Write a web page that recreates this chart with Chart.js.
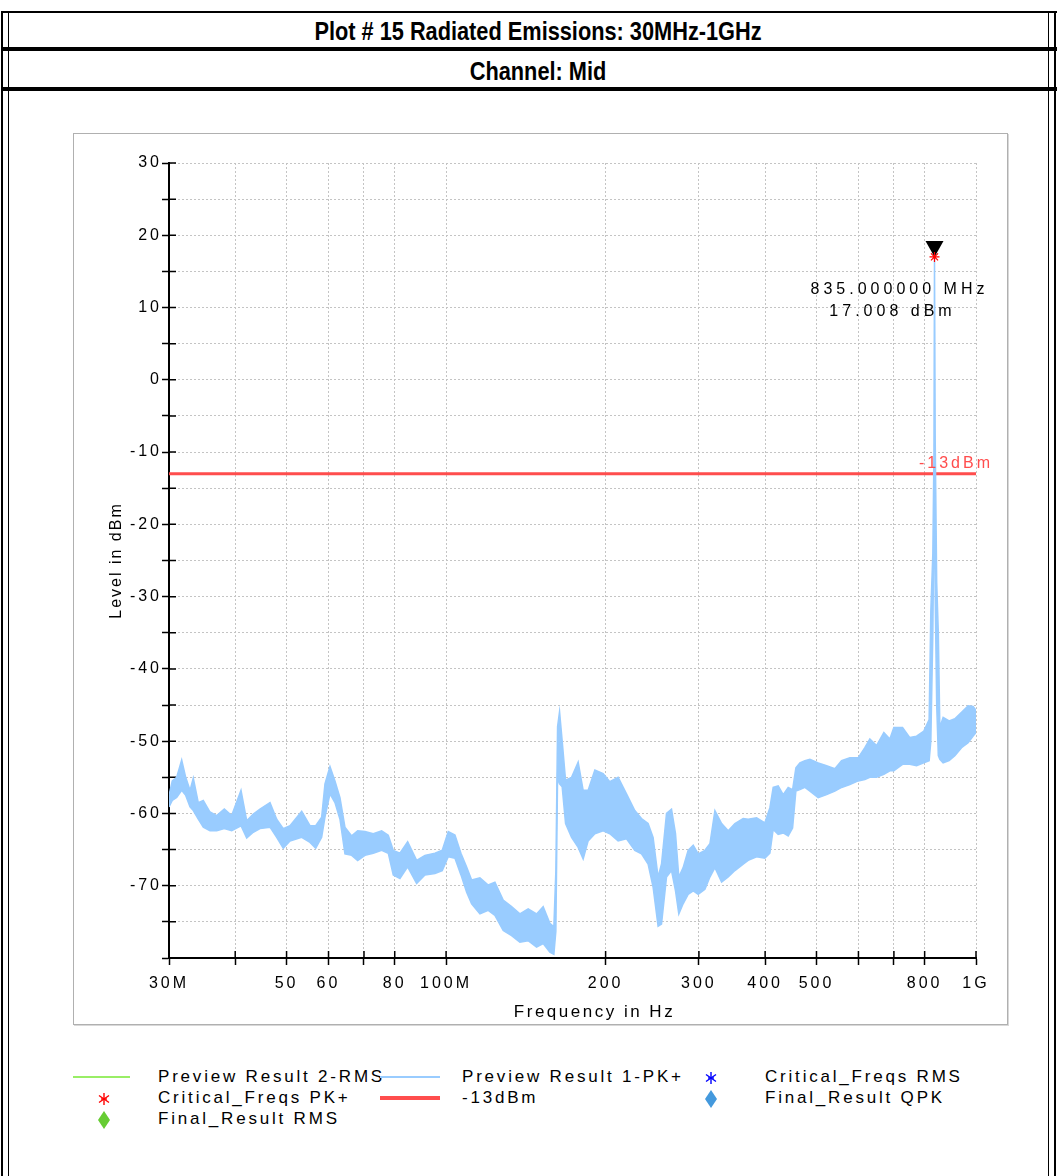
<!DOCTYPE html>
<html>
<head>
<meta charset="utf-8">
<script src="https://cdn.jsdelivr.net/npm/chart.js@4"></script>
<style>
body { margin: 0; width: 1057px; height: 1176px; position: relative; overflow: hidden; background: #fff; font-family: "Liberation Sans", Arial, sans-serif; }
.ln { position: absolute; background: #000; }
.hdr { position: absolute; left: 0; width: 1076px; text-align: center; font-family: "Liberation Sans Narrow", "Arial Narrow", "Liberation Sans", sans-serif; font-weight: bold; font-size: 25px; line-height: 28px; transform: scaleX(0.87); }
#frame { position: absolute; left: 73px; top: 133px; width: 933px; height: 890px; border: 1px solid #b0b0b0; box-shadow: 1px 1px 0 #d8d8d8; }
.lg { position: absolute; font-size: 17px; letter-spacing: 2.8px; line-height: 20px; white-space: nowrap; }
.sym { position: absolute; }
</style>
</head>
<body>
<div class="ln" style="left:1px;top:11px;width:1056px;height:2px"></div>
<div class="ln" style="left:1px;top:11px;width:2px;height:1165px"></div>
<div class="ln" style="left:8px;top:13px;width:1px;height:1163px"></div>
<div class="ln" style="left:1048px;top:13px;width:1px;height:1163px"></div>
<div class="ln" style="left:1054px;top:11px;width:2px;height:1165px"></div>
<div class="ln" style="left:1px;top:47px;width:1056px;height:4px"></div>
<div class="ln" style="left:1px;top:87px;width:1056px;height:4px"></div>
<div class="hdr" style="top:17px">Plot # 15 Radiated Emissions: 30MHz-1GHz</div>
<div class="hdr" style="top:57px">Channel: Mid</div>

<div id="frame"><canvas id="myChart"></canvas></div>

<div id="legend"></div>

<script>
// preview trace: band top / bottom per frequency (MHz, dBm)
const freqMHz = [30.00, 30.43, 31.02, 31.70, 32.26, 32.87, 33.34, 34.07, 34.82, 35.85,
  36.91, 38.15, 39.39, 41.02, 42.05, 43.27, 44.55, 46.53, 47.90, 49.29,
  50.75, 53.40, 55.36, 56.75, 58.24, 59.08, 60.38, 61.70, 63.06, 64.44,
  66.35, 68.10, 70.30, 72.88, 75.58, 77.78, 79.49, 81.83, 84.62, 87.99,
  91.22, 95.28, 98.35, 100.95, 103.93, 106.67, 109.34, 111.74, 115.84, 120.09,
  123.64, 128.17, 132.93, 137.81, 142.86, 148.17, 152.48, 156.98, 159.73, 161.13,
  162.32, 163.73, 165.59, 168.06, 172.50, 177.52, 181.42, 185.40, 190.88, 197.87,
  203.71, 211.19, 219.03, 227.06, 233.77, 240.56, 245.84, 251.24, 255.00, 260.60,
  266.32, 270.99, 274.91, 280.10, 286.25, 292.66, 299.09, 307.92, 314.68, 321.59,
  331.09, 340.71, 350.78, 363.65, 371.63, 385.43, 399.58, 408.36, 414.26, 423.36,
  432.66, 442.17, 450.71, 457.22, 465.23, 475.47, 485.92, 503.74, 522.45, 541.61,
  557.59, 578.06, 599.25, 616.94, 630.50, 649.13, 670.04, 687.74, 699.80, 726.74,
  750.17, 772.33, 797.21, 815.78, 821.8, 829.0, 833.0, 835.0, 837.5, 843.0,
  849.0, 854.6, 866.9, 889.8, 912.1, 939.1, 966.4, 987.6, 1000];
const pkTopDbm = [-57.5, -55.5, -55.0, -52.6, -55.0, -56.8, -55.1, -58.5, -58.2, -59.8,
  -60.3, -59.4, -60.3, -56.8, -61.0, -60.1, -59.4, -58.5, -60.8, -62.1,
  -61.7, -59.7, -61.7, -61.7, -60.5, -55.9, -53.5, -55.5, -57.8, -61.9,
  -63.1, -62.4, -62.5, -62.8, -62.4, -63.0, -65.1, -65.5, -63.9, -66.5,
  -65.8, -65.5, -65.1, -62.5, -63.0, -65.5, -67.4, -69.2, -68.9, -69.9,
  -69.5, -72.0, -72.9, -73.9, -73.2, -73.9, -72.9, -75.2, -75.7, -67.9,
  -48.0, -45.9, -49.9, -55.4, -55.0, -52.9, -56.8, -56.8, -54.0, -54.5,
  -55.6, -55.0, -57.3, -59.6, -60.7, -61.4, -63.3, -68.8, -67.0, -60.0,
  -59.4, -62.8, -68.8, -67.5, -65.1, -64.4, -65.6, -65.1, -64.2, -59.6,
  -61.4, -62.4, -61.4, -60.7, -60.8, -60.6, -61.3, -59.2, -56.4, -56.2,
  -57.4, -56.4, -56.7, -53.7, -53.0, -52.7, -52.5, -53.0, -53.4, -53.8,
  -52.7, -52.3, -52.3, -50.9, -49.7, -50.6, -48.8, -49.7, -48.1, -48.1,
  -49.5, -49.3, -48.6, -47.0, -32.0, -24.0, -10.0, 17.008, -8.0, -28.0,
  -35.0, -48.1, -46.7, -47.2, -46.9, -46.0, -45.1, -45.2, -45.7];
const pkBottomDbm = [-59.1, -58.2, -57.8, -56.8, -57.5, -59.1, -59.6, -60.8, -61.9, -62.4,
  -62.4, -62.1, -62.4, -61.7, -63.4, -62.6, -62.1, -61.9, -63.3, -64.8,
  -63.8, -63.3, -64.0, -64.8, -63.3, -60.5, -57.3, -58.5, -60.8, -65.6,
  -65.8, -66.5, -65.8, -65.5, -65.1, -65.5, -68.5, -69.0, -67.4, -69.7,
  -68.5, -68.3, -67.9, -66.0, -66.2, -68.5, -70.9, -72.5, -73.9, -73.4,
  -74.1, -76.2, -76.9, -77.8, -77.6, -78.5, -78.0, -79.2, -79.5, -76.3,
  -55.0, -55.9, -56.3, -61.4, -63.3, -64.7, -66.3, -63.8, -62.8, -62.4,
  -62.8, -63.8, -63.5, -65.1, -65.6, -67.0, -70.2, -75.6, -75.3, -68.8,
  -67.9, -70.7, -73.9, -72.5, -71.2, -70.7, -71.2, -70.5, -68.8, -67.5,
  -69.5, -68.8, -67.9, -67.0, -66.5, -66.0, -66.2, -65.5, -62.2, -62.9,
  -62.7, -63.1, -62.0, -56.9, -56.7, -56.4, -56.9, -57.8, -57.4, -56.9,
  -56.4, -56.0, -55.5, -55.3, -55.0, -55.0, -54.6, -54.1, -54.1, -53.2,
  -53.2, -53.4, -53.0, -52.7, -50.0, -35.0, -20.0, -15.0, -30.0, -45.0,
  -52.0, -52.5, -53.0, -52.7, -52.0, -50.9, -50.2, -49.3, -48.8];

const peakMHz = 835;
const peakDbm = 17.008;
const limitDbm = -13;
const limitLabel = '-13dBm';

const xTickValues = [30, 40, 50, 60, 70, 80, 100, 200, 300, 400, 500, 600, 700, 800, 1000];
const xTickLabels = ['30M', '', '50', '60', '', '80', '100M', '200', '300', '400', '500', '', '', '800', '1G'];
const xTitle = 'Frequency in Hz';
const yTitle = 'Level in dBm';

const legendItems = [
  { text: 'Preview Result 2-RMS', kind: 'line', color: '#99ee66', w: 2, col: 0, row: 0 },
  { text: 'Preview Result 1-PK+', kind: 'line', color: '#99ccff', w: 2, col: 1, row: 0 },
  { text: 'Critical_Freqs RMS', kind: 'star', color: '#0000ff', col: 2, row: 0 },
  { text: 'Critical_Freqs PK+', kind: 'star', color: '#ff0000', col: 0, row: 1 },
  { text: '-13dBm', kind: 'line', color: '#ff4d4d', w: 4, col: 1, row: 1 },
  { text: 'Final_Result QPK', kind: 'diamond', color: '#4499dd', col: 2, row: 1 },
  { text: 'Final_Result RMS', kind: 'diamond', color: '#66cc33', col: 0, row: 2 }
];

const traceColor = '#99ccff';

function buildLegend() {
  const box = document.getElementById('legend');
  const textX = [158, 462, 765];
  const lineX = [[73, 130], [380, 440], [380, 440]];
  const symX = [104, 410, 711];
  let html = '';
  legendItems.forEach(it => {
    const cy = 1078 + it.row * 21;
    html += `<div class="lg" style="left:${textX[it.col]}px;top:${cy - 11}px">${it.text}</div>`;
    const cx = symX[it.col];
    if (it.kind === 'line') {
      const [a, b] = lineX[it.col];
      html += `<div class="sym" style="left:${a}px;top:${cy - it.w / 2 - 1}px;width:${b - a}px;height:${it.w}px;background:${it.color}"></div>`;
    } else if (it.kind === 'star') {
      html += `<svg class="sym" style="left:${cx - 7}px;top:${cy - 7}px" width="14" height="14" viewBox="-7 -7 14 14">
        <g stroke="${it.color}" stroke-width="1.4"><line x1="0" y1="-6" x2="0" y2="6"/><line x1="-5" y1="-3.5" x2="5" y2="3.5"/><line x1="-5" y1="3.5" x2="5" y2="-3.5"/><line x1="-3" y1="0" x2="3" y2="0"/></g></svg>`;
    } else {
      html += `<svg class="sym" style="left:${cx - 7}px;top:${cy - 9}px" width="14" height="18" viewBox="-7 -9 14 18">
        <polygon points="0,-9 6,0 0,9 -6,0" fill="${it.color}"/></svg>`;
    }
  });
  box.innerHTML = html;
}

document.addEventListener('DOMContentLoaded', function() {
  buildLegend();

  Chart.defaults.font.family = '"Liberation Sans", Arial, sans-serif';
  Chart.defaults.font.size = 16;
  Chart.defaults.color = '#000';

  const upper = freqMHz.map((f, i) => ({ x: f, y: pkTopDbm[i] }));
  const lower = freqMHz.map((f, i) => ({ x: f, y: pkBottomDbm[i] }));

  const gridOpts = { color: '#c4c4c4', lineWidth: 1, tickColor: '#000', tickWidth: 1.5, tickLength: 7 };
  const borderOpts = { display: true, color: '#000', width: 2, dash: [2, 2] };

  const extras = {
    id: 'extras',
    beforeDraw(chart) {
      chart.ctx.letterSpacing = '3px';
    },
    beforeDatasetsDraw(chart) {
      const { ctx, chartArea, scales: { x, y } } = chart;
      ctx.save();
      ctx.strokeStyle = '#000';
      ctx.lineWidth = 1.5;
      ctx.beginPath();
      y.ticks.forEach(t => {
        const py = y.getPixelForValue(t.value);
        ctx.moveTo(chartArea.left, py);
        ctx.lineTo(chartArea.left + 7, py);
      });
      x.ticks.forEach(t => {
        const px = x.getPixelForValue(t.value);
        ctx.moveTo(px, chartArea.bottom);
        ctx.lineTo(px, chartArea.bottom - 7);
      });
      ctx.stroke();

      // marker triangle pointing at the peak
      const px = x.getPixelForValue(peakMHz);
      const py = y.getPixelForValue(peakDbm);
      ctx.fillStyle = '#000';
      ctx.beginPath();
      ctx.moveTo(px - 9, py - 16);
      ctx.lineTo(px + 9, py - 16);
      ctx.lineTo(px, py);
      ctx.closePath();
      ctx.fill();
      ctx.restore();
    },
    afterDatasetsDraw(chart) {
      const { ctx, chartArea, scales: { x, y } } = chart;
      ctx.save();
      ctx.font = '16px "Liberation Sans", Arial, sans-serif';
      ctx.fillStyle = '#ff4d4d';
      ctx.textAlign = 'right';
      ctx.textBaseline = 'bottom';
      ctx.letterSpacing = '3px';
      ctx.fillText(limitLabel, chartArea.right + 17, y.getPixelForValue(limitDbm) - 2);

      const px = x.getPixelForValue(peakMHz);
      const py = y.getPixelForValue(peakDbm);
      ctx.fillStyle = '#000';
      ctx.textAlign = 'center';
      ctx.textBaseline = 'middle';
      ctx.letterSpacing = '4px';
      ctx.fillText(peakMHz.toFixed(6) + ' MHz', px - 35, py + 33);
      ctx.fillText(peakDbm.toFixed(3) + ' dBm', px - 42, py + 55);

      // axis titles
      ctx.font = '17px "Liberation Sans", Arial, sans-serif';
      ctx.letterSpacing = '2.5px';
      ctx.fillText(xTitle, (chartArea.left + chartArea.right) / 2 + 22, chartArea.bottom + 54);
      ctx.font = '16px "Liberation Sans", Arial, sans-serif';
      ctx.letterSpacing = '2px';
      ctx.translate(43, (chartArea.top + chartArea.bottom) / 2);
      ctx.rotate(-Math.PI / 2);
      ctx.fillText(yTitle, 0, 0);
      ctx.restore();
    }
  };

  new Chart(document.getElementById('myChart'), {
    type: 'line',
    data: {
      datasets: [
        {
          label: 'Critical_Freqs PK+',
          type: 'scatter',
          data: [{ x: peakMHz, y: peakDbm }],
          pointStyle: 'star',
          radius: 5,
          borderColor: '#ff0000',
          borderWidth: 1.2
        },
        {
          label: 'Preview Result 1-PK+',
          data: upper,
          borderColor: traceColor,
          borderWidth: 1.5,
          pointRadius: 0,
          tension: 0,
          fill: false
        },
        {
          label: 'Preview Result 1-PK+ (floor)',
          data: lower,
          borderColor: traceColor,
          backgroundColor: traceColor,
          borderWidth: 1.5,
          pointRadius: 0,
          tension: 0,
          fill: '-1'
        },
        {
          label: '-13dBm',
          data: [{ x: 30, y: limitDbm }, { x: 1000, y: limitDbm }],
          borderColor: '#ff4d4d',
          borderWidth: 3,
          pointRadius: 0,
          fill: false
        }
      ]
    },
    options: {
      responsive: true,
      maintainAspectRatio: false,
      animation: false,
      layout: { padding: { left: 0, top: 29, right: 31, bottom: 0 } },
      plugins: { legend: { display: false }, tooltip: { enabled: false } },
      scales: {
        x: {
          type: 'logarithmic',
          min: 30,
          max: 1000,
          afterBuildTicks: s => { s.ticks = xTickValues.map(v => ({ value: v })); },
          afterFit: s => { s.height = 66; },
          grid: gridOpts,
          border: borderOpts,
          ticks: {
            autoSkip: false,
            maxRotation: 0,
            padding: 9,
            color: '#000',
            callback: v => xTickLabels[xTickValues.indexOf(v)] ?? ''
          }
        },
        y: {
          min: -80,
          max: 30,
          afterFit: s => { s.width = 95; },
          grid: gridOpts,
          border: borderOpts,
          ticks: {
            stepSize: 5,
            padding: 0,
            color: '#000',
            callback: v => (v % 10 === 0 && v > -80) ? String(v) : ''
          }
        }
      }
    },
    plugins: [extras]
  });
});
</script>
</body>
</html>
